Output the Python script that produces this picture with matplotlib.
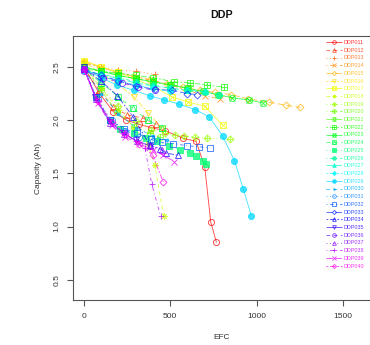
import matplotlib
matplotlib.use("Agg")
import matplotlib.pyplot as plt
import colorsys
from matplotlib.legend_handler import HandlerTuple
from matplotlib.lines import Line2D

names = ["DDP%03d" % i for i in range(11, 41)]

efc = {
    "DDP011": [0, 90, 170, 245, 320, 390, 470, 575, 650, 700, 735, 768],
    "DDP012": [0, 90, 170, 250, 340, 420],
    "DDP013": [0, 100, 200, 300, 410],
    "DDP014": [0, 100, 200, 300, 400, 500, 600, 700, 790],
    "DDP015": [0, 95, 190, 290, 385, 480, 575, 670, 760, 855, 950, 1070, 1169, 1254],
    "DDP016": [0, 100, 200, 290, 370, 455],
    "DDP017": [0, 100, 200, 300, 400, 508, 605, 700, 806],
    "DDP018": [0, 100, 200, 290, 370, 410, 462],
    "DDP019": [0, 100, 200, 300, 390, 470, 530, 581, 645, 715, 848],
    "DDP020": [0, 100, 190, 290, 380, 440],
    "DDP021": [0, 100, 200, 300, 400, 500, 610],
    "DDP022": [0, 100, 200, 300, 400, 520, 615, 715, 810],
    "DDP023": [0, 100, 200, 300, 400, 500, 600, 690, 775, 860, 955, 1040],
    "DDP024": [0, 100, 200, 283, 370, 450],
    "DDP025": [0, 70, 150, 210, 290, 360, 422, 494, 554, 616, 649, 692, 705],
    "DDP026": [0, 100, 200, 300, 400, 500, 600, 700, 780],
    "DDP027": [0, 100, 200, 300, 400, 500, 600, 700],
    "DDP028": [0, 100, 200, 300, 400, 500],
    "DDP029": [0, 100, 190, 290, 380, 465, 552, 644, 727, 804, 872, 924, 970],
    "DDP030": [0, 100, 200, 300, 400, 480],
    "DDP031": [0, 80, 160, 240, 320, 400],
    "DDP032": [0, 70, 150, 230, 310, 388, 455, 517, 595, 665, 731],
    "DDP033": [0, 100, 200, 300, 410, 510, 600, 653],
    "DDP034": [0, 97, 194, 285, 380, 442, 475, 547],
    "DDP035": [0, 65, 150, 230, 300, 380],
    "DDP036": [0, 110, 219, 314, 411],
    "DDP037": [0, 70, 150, 230, 310, 380, 450],
    "DDP038": [0, 70, 150, 230, 300, 353, 393, 444],
    "DDP039": [0, 80, 160, 240, 320, 400, 460, 523],
    "DDP040": [0, 80, 160, 240, 320, 399, 459],
}

capacity = {
    "DDP011": [2.50, 2.25, 2.08, 2.00, 1.96, 1.93, 1.90, 1.83, 1.80, 1.56, 1.04, 0.85],
    "DDP012": [2.48, 2.28, 2.12, 2.05, 2.02, 1.96],
    "DDP013": [2.56, 2.50, 2.47, 2.46, 2.43],
    "DDP014": [2.54, 2.49, 2.45, 2.41, 2.37, 2.33, 2.28, 2.23, 2.20],
    "DDP015": [2.55, 2.50, 2.45, 2.41, 2.38, 2.34, 2.31, 2.28, 2.26, 2.24, 2.20, 2.17, 2.14, 2.12],
    "DDP016": [2.55, 2.44, 2.33, 2.22, 2.07, 1.92],
    "DDP017": [2.56, 2.50, 2.45, 2.38, 2.32, 2.22, 2.17, 2.13, 1.95],
    "DDP018": [2.53, 2.30, 2.10, 1.93, 1.78, 1.58, 1.10],
    "DDP019": [2.50, 2.30, 2.13, 1.99, 1.91, 1.88, 1.86, 1.85, 1.84, 1.83, 1.82],
    "DDP020": [2.50, 2.28, 2.08, 1.94, 1.88, 1.84],
    "DDP021": [2.50, 2.46, 2.42, 2.39, 2.36, 2.33, 2.30],
    "DDP022": [2.48, 2.46, 2.44, 2.42, 2.40, 2.36, 2.35, 2.33, 2.31],
    "DDP023": [2.50, 2.46, 2.42, 2.39, 2.36, 2.33, 2.30, 2.27, 2.24, 2.21, 2.19, 2.16],
    "DDP024": [2.48, 2.35, 2.22, 2.11, 2.00, 1.93],
    "DDP025": [2.48, 2.22, 2.00, 1.92, 1.88, 1.83, 1.80, 1.76, 1.72, 1.69, 1.66, 1.62, 1.59],
    "DDP026": [2.47, 2.43, 2.40, 2.36, 2.33, 2.30, 2.28, 2.26, 2.24],
    "DDP027": [2.47, 2.43, 2.39, 2.35, 2.32, 2.30, 2.28, 2.27],
    "DDP028": [2.47, 2.41, 2.37, 2.33, 2.30, 2.27],
    "DDP029": [2.48, 2.40, 2.33, 2.28, 2.23, 2.19, 2.15, 2.10, 2.03, 1.85, 1.62, 1.35, 1.10],
    "DDP030": [2.47, 2.25, 2.06, 1.93, 1.85, 1.81],
    "DDP031": [2.48, 2.20, 2.00, 1.90, 1.84, 1.80],
    "DDP032": [2.48, 2.22, 2.00, 1.92, 1.88, 1.82, 1.79, 1.78, 1.76, 1.75, 1.74],
    "DDP033": [2.48, 2.42, 2.37, 2.32, 2.29, 2.28, 2.25, 2.24],
    "DDP034": [2.48, 2.37, 2.23, 2.03, 1.77, 1.73, 1.69, 1.67],
    "DDP035": [2.50, 2.22, 1.98, 1.88, 1.81, 1.76],
    "DDP036": [2.46, 2.40, 2.35, 2.31, 2.28],
    "DDP037": [2.48, 2.20, 1.97, 1.87, 1.80, 1.76, 1.72],
    "DDP038": [2.48, 2.20, 2.00, 1.88, 1.80, 1.74, 1.40, 1.10],
    "DDP039": [2.48, 2.16, 1.95, 1.84, 1.78, 1.72, 1.67, 1.61],
    "DDP040": [2.48, 2.18, 1.98, 1.87, 1.78, 1.67, 1.42],
}

x_ticks = [0, 500, 1000, 1500]
y_ticks = [0.5, 1.0, 1.5, 2.0, 2.5]

# R pch 1..25 approximations: list of (marker, filled) overlays
pch_map = {
    1: [("o", False)], 2: [("^", False)], 3: [("+", False)], 4: [("x", False)],
    5: [("D", False)], 6: [("v", False)], 7: [("s", False), ("x", False)],
    8: [((8, 2, 0), False)], 9: [("D", False), ("+", False)],
    10: [("o", False), ("+", False)], 11: [("^", False), ("v", False)],
    12: [("s", False), ("+", False)], 13: [("o", False), ("x", False)],
    14: [("s", False), ("^", False)], 15: [("s", True)], 16: [("o", True)],
    17: [("^", True)], 18: [("D", True)], 19: [("o", True)], 20: [(".", True)],
    21: [("o", False)], 22: [("s", False)], 23: [("D", False)],
    24: [("^", False)], 25: [("v", False)],
}
lty_map = {1: (0, ()), 2: (0, (4, 4)), 3: (0, (1, 3)), 4: (0, (1, 3, 4, 3)),
           5: (0, (7, 3)), 6: (0, (2, 2, 6, 2))}

plt.rcParams['font.family'] = ['Liberation Sans', 'DejaVu Sans']
fig = plt.figure(figsize=(3.70, 3.45), dpi=100)
ax = fig.add_axes([0.197, 0.130, 0.806, 0.766])

handles = []
for i, name in enumerate(names):
    h = i * 10.5 / 360.0
    col = colorsys.hsv_to_rgb(h, 1, 1)
    pch = (i % 25) + 1
    lty = lty_map[(i % 6) + 1]
    ms = 4.4
    ax.plot(efc[name], capacity[name], color=col, lw=0.65, linestyle=lty, alpha=0.7)
    parts = []
    lh = Line2D([], [], color=col, lw=0.65, linestyle=lty, alpha=0.7)
    parts.append(lh)
    for mk, filled in pch_map[pch]:
        msz = ms * (0.8 if mk == "D" else 1.0)
        if mk == ".":
            msz = 4
        ax.plot(efc[name], capacity[name], linestyle="none", marker=mk,
                markersize=msz, markeredgewidth=0.65, color=col,
                markerfacecolor=col if filled else "none", alpha=0.75)
        parts.append(Line2D([], [], linestyle="none", marker=mk, markersize=msz * 0.6,
                            markeredgewidth=0.6, color=col, alpha=0.8,
                            markerfacecolor=col if filled else "none"))
    handles.append(tuple(parts))

ax.set_xlim(-64, 1664)
ax.set_ylim(0.308, 2.792)
ax.set_xticks(x_ticks)
ax.set_yticks(y_ticks)
ax.set_xticklabels([str(v) for v in x_ticks])
ax.set_yticklabels(["%.1f" % v for v in y_ticks], rotation=90, va="center")
ax.tick_params(direction="out", length=4, width=0.8, colors="#555555",
               labelsize=6, labelcolor="#333333", pad=5)
for s in ax.spines.values():
    s.set_color("#555555")
    s.set_linewidth(0.8)

ax.set_xlabel("EFC", fontsize=6, color="#333333", labelpad=10)
ax.set_ylabel("Capacity (Ah)", fontsize=6, color="#333333", labelpad=8)
fig.text(222 / 370, 1 - 15 / 345, "DDP", fontsize=7.7, fontweight="bold",
         ha="center", va="center", color="#111111")

leg = ax.legend(handles, names, handler_map={tuple: HandlerTuple(ndivide=1)},
                loc="upper left", bbox_to_anchor=(326 / 370, 1 - 40 / 345),
                bbox_transform=fig.transFigure, frameon=False,
                fontsize=3.9, handlelength=3.0, handletextpad=0.3,
                labelspacing=0.5, borderpad=0, borderaxespad=0)
for t, n in zip(leg.get_texts(), range(30)):
    t.set_color(colorsys.hsv_to_rgb(n * 10.5 / 360.0, 1, 1))
    t.set_alpha(0.8)

fig.savefig("out.png", dpi=100)
